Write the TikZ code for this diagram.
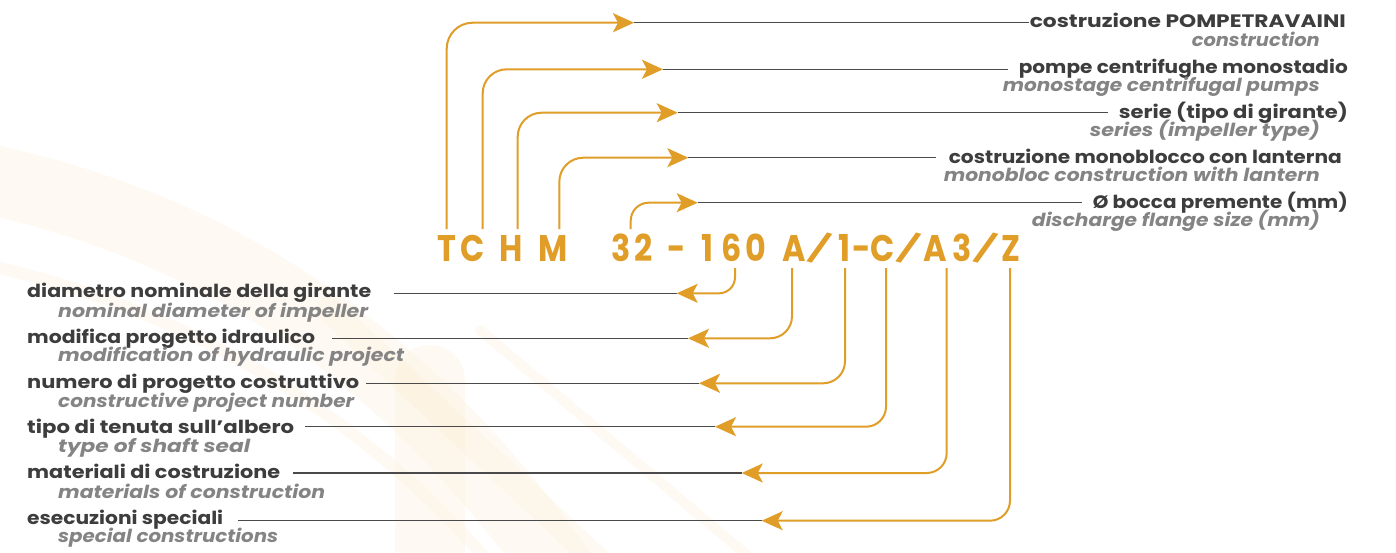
\documentclass[tikz,border=0pt]{standalone}
\usepackage{fontspec}
\setmainfont{Poppins}
\usetikzlibrary{arrows.meta}
\definecolor{org}{HTML}{E09E28}
\definecolor{dk}{HTML}{3D3D3D}
\definecolor{gr}{HTML}{848484}
\definecolor{ln}{HTML}{4A4A4A}
\definecolor{cream}{HTML}{FBEBCB}
\newcommand\fitw[2]{\resizebox{#1pt}{\height}{#2}}
\tikzset{
  codech/.style={inner sep=0pt, anchor=base, text=org, font=\fontsize{37}{40}\selectfont\bfseries},
  slashch/.style={codech, anchor=center},
  itlab/.style={inner sep=0pt, text=dk, font=\fontsize{18}{20}\selectfont\bfseries},
  enlab/.style={inner sep=0pt, text=gr, font=\fontsize{18}{20}\selectfont\bfseries\itshape},
  oarrow/.style={draw=org, line width=2pt, -{Stealth[length=21pt,width=19pt,inset=5pt]}},
  leader/.style={draw=ln, line width=1.3pt}
}
\begin{document}
\begin{tikzpicture}[x=1pt,y=-1pt]
\useasboundingbox (0,0) rectangle (1396,552);
\fill[white] (0,0) rectangle (1396,552);
% faint background swooshes
\begin{scope}[line cap=round, opacity=0.22]
  \draw[cream, line width=70pt] (-60,170) .. controls (180,210) and (400,330) .. (580,600);
  \draw[cream, line width=12pt] (-40,260) .. controls (180,300) and (380,420) .. (520,600);
  \draw[cream, line width=26pt] (330,310) -- (640,600);
  \draw[cream, line width=10pt] (480,330) -- (800,600);
  \draw[cream, line width=70pt] (430,380) -- (430,600);
\end{scope}

% code characters
\foreach \ch/\cx [count=\i] in {T/446.5, C/473, H/511, M/553, 3/621.5, 2/644, -/676.5, 1/707.5, 6/732, 0/756, A/794, 1/844, -/861.5, C/883, A/935, 3/962, Z/1011}
  \node[codech] (L\i) at (\cx,261) {\scalebox{0.86}[1]{\ch}};
\foreach \cx [count=\i] in {820, 909, 985.5}
  \node[slashch] (S\i) at (\cx,248) {\scalebox{0.92}[0.78]{\rotatebox[origin=c]{-18}{/}}};

% ---------- top labels ----------
\node[itlab, anchor=base east] (r1) at (1346,27) {\fitw{316}{costruzione POMPETRAVAINI}};
\node[enlab, anchor=base east] (i1) at (1320,46) {\fitw{128}{construction}};
\node[itlab, anchor=base east] (r2) at (1348,73) {\fitw{329}{pompe centrifughe monostadio}};
\node[enlab, anchor=base east] (i2) at (1320,91) {\fitw{317}{monostage centrifugal pumps}};
\node[itlab, anchor=base east] (r3) at (1348,118) {\fitw{229}{serie (tipo di girante)}};
\node[enlab, anchor=base east] (i3) at (1320,136) {\fitw{230}{series (impeller type)}};
\node[itlab, anchor=base east] (r4) at (1342,163) {\fitw{393}{costruzione monoblocco con lanterna}};
\node[enlab, anchor=base east] (i4) at (1320,181) {\fitw{376}{monobloc construction with lantern}};
\node[itlab, anchor=base east] (r5) at (1348,208) {\fitw{255}{Ø bocca premente (mm)}};
\node[enlab, anchor=base east] (i5) at (1320,226) {\fitw{288}{discharge flange size (mm)}};

% top connectors
\coordinate (s1) at (446.7,229); \coordinate (t1) at (634,22.7);   \coordinate (e1) at (1029,22.7);
\coordinate (s2) at (482.7,229); \coordinate (t2) at (663,69.3);   \coordinate (e2) at (1008,69.3);
\coordinate (s3) at (517.7,229); \coordinate (t3) at (677.7,112.7);\coordinate (e3) at (1108,112.7);
\coordinate (s4) at (559.3,229); \coordinate (t4) at (688.3,157.7);\coordinate (e4) at (936,157.7);
\coordinate (s5) at (630.7,229); \coordinate (t5) at (697.7,202.7);\coordinate (e5) at (1082,202.7);
\foreach \k/\r in {1/26,2/24,3/24,4/24,5/18}{
  \draw[leader] (t\k) -- (e\k);
  \draw[oarrow, rounded corners=\r pt] (s\k) |- (t\k);
}

% ---------- bottom labels ----------
\node[itlab, anchor=base west] (d1) at (27,297) {\fitw{344}{diametro nominale della girante}};
\node[enlab, anchor=base west] (f1) at (58,317) {\fitw{310}{nominal diameter of impeller}};
\node[itlab, anchor=base west] (d2) at (27,343) {\fitw{288}{modifica progetto idraulico}};
\node[enlab, anchor=base west] (f2) at (58,361) {\fitw{346}{modification of hydraulic project}};
\node[itlab, anchor=base west] (d3) at (27,388) {\fitw{332}{numero di progetto costruttivo}};
\node[enlab, anchor=base west] (f3) at (58,407) {\fitw{296}{constructive project number}};
\node[itlab, anchor=base west] (d4) at (27,433) {\fitw{267}{tipo di tenuta sull’albero}};
\node[enlab, anchor=base west] (f4) at (58,452) {\fitw{192}{type of shaft seal}};
\node[itlab, anchor=base west] (d5) at (27,478) {\fitw{253}{materiali di costruzione}};
\node[enlab, anchor=base west] (f5) at (58,498) {\fitw{267}{materials of construction}};
\node[itlab, anchor=base west] (d6) at (27,524) {\fitw{196}{esecuzioni speciali}};
\node[enlab, anchor=base west] (f6) at (58,542) {\fitw{220}{special constructions}};

% bottom connectors
\coordinate (u1) at (735,268);   \coordinate (p1) at (676.7,293.3); \coordinate (q1) at (394,293.3);
\coordinate (u2) at (792,268);   \coordinate (p2) at (688,338.3);   \coordinate (q2) at (332,338.3);
\coordinate (u3) at (845,268);   \coordinate (p3) at (699,383.3);   \coordinate (q3) at (366,383.3);
\coordinate (u4) at (886,268);   \coordinate (p4) at (715,426.7);   \coordinate (q4) at (305,426.7);
\coordinate (u5) at (946.7,268); \coordinate (p5) at (741.7,473);   \coordinate (q5) at (293,473);
\coordinate (u6) at (1010,268);  \coordinate (p6) at (761.7,520.7); \coordinate (q6) at (238,520.7);
\foreach \k/\r in {1/16,2/22,3/22,4/20,5/20,6/20}{
  \draw[leader] (q\k) -- (p\k);
  \draw[oarrow, rounded corners=\r pt] (u\k) |- (p\k);
}
\end{tikzpicture}
\end{document}
